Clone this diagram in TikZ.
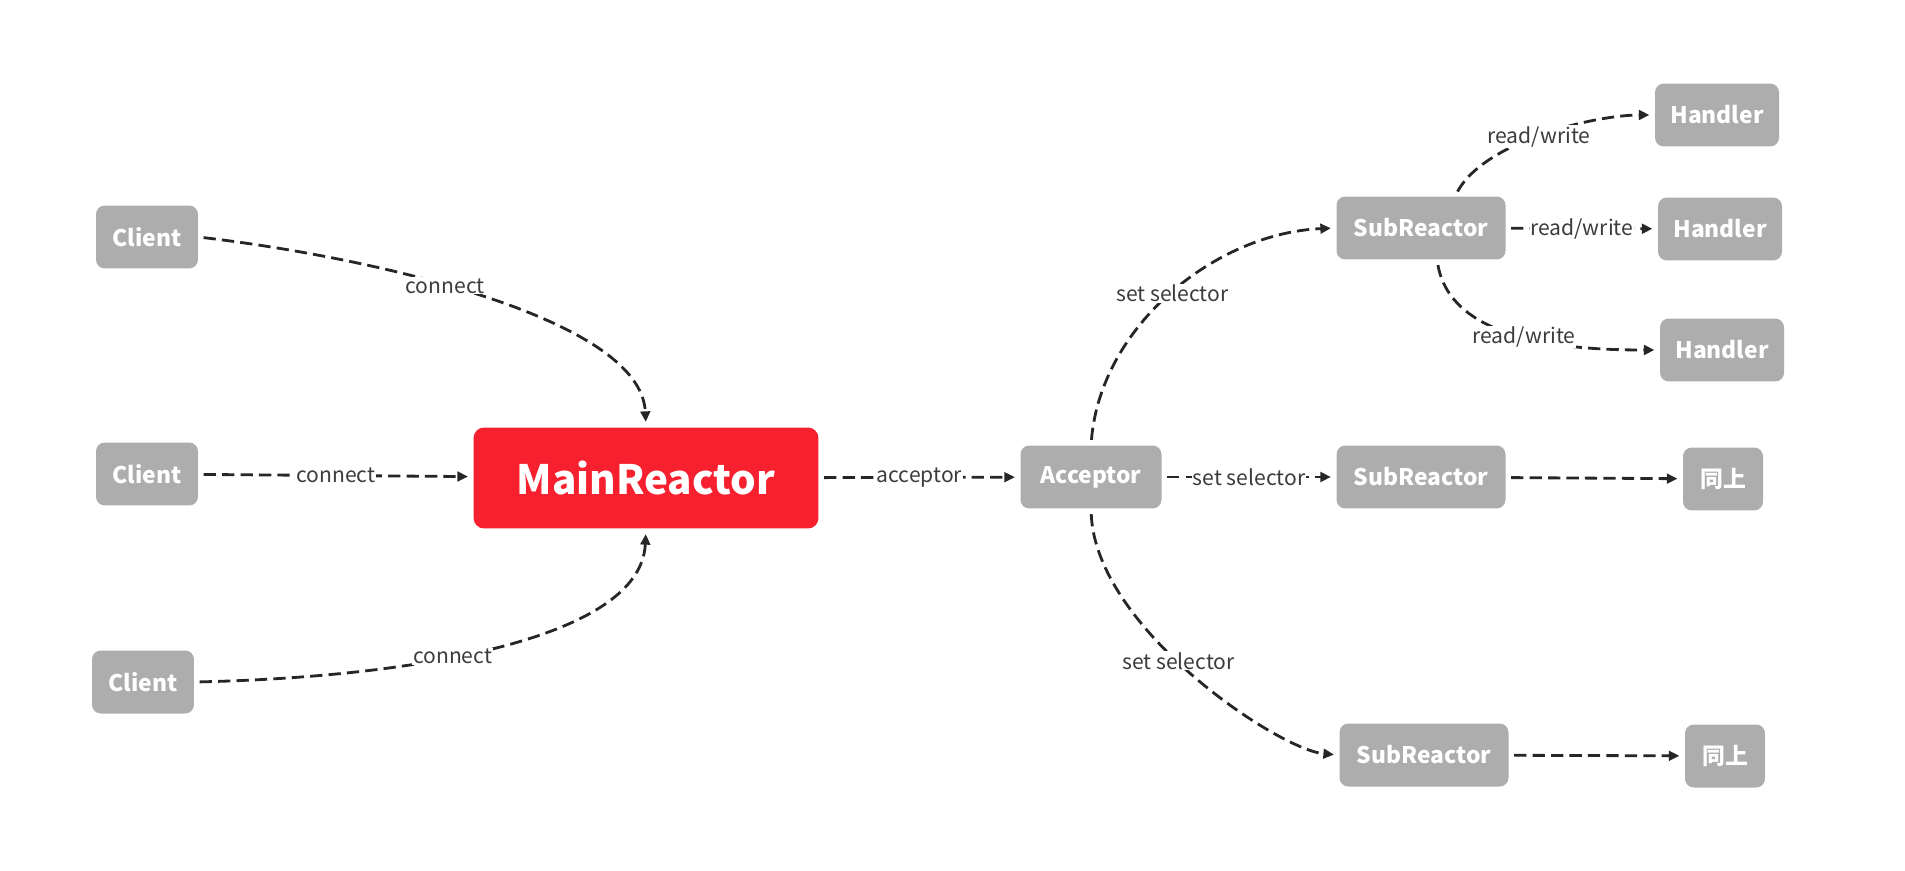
\documentclass[tikz,border=0pt]{standalone}
\usepackage{fontspec}
\setmainfont{Noto Sans CJK SC}
\usetikzlibrary{arrows.meta}

\definecolor{boxgray}{HTML}{ADADAD}
\definecolor{mainred}{HTML}{F6202E}
\definecolor{linedark}{HTML}{262626}

\begin{document}
\begin{tikzpicture}[
    x=0.02cm, y=-0.02cm,
    box/.style={rectangle, rounded corners=5pt, fill=boxgray, text=white, inner sep=0pt,
        minimum height=1.26cm, font=\fontsize{13}{15}\selectfont\bfseries},
    client/.style={box, minimum width=2.04cm},
    acceptor/.style={box, minimum width=2.82cm},
    sub/.style={box, minimum width=3.38cm},
    handler/.style={box, minimum width=2.48cm},
    same/.style={box, minimum width=1.6cm},
    reactor/.style={rectangle, rounded corners=6pt, fill=mainred, text=white, inner sep=0pt,
        minimum width=6.9cm, minimum height=2.02cm, font=\fontsize{23}{26}\selectfont\bfseries},
    conn/.style={-{Triangle[length=6pt, width=5.5pt]}, linedark, line width=1.6pt,
        dash pattern=on 7pt off 3.5pt, shorten <=3pt, shorten >=3pt},
    lbl/.style={fill=white, inner sep=0.5pt, text=linedark!90, font=\fontsize{12}{14}\selectfont}
]
\useasboundingbox (0,0) rectangle (1905,871);

% Clients
\node[client] (client1) at (147,237) {Client};
\node[client] (client2) at (147,474) {Client};
\node[client] (client3) at (143,682) {Client};

% Main reactor and acceptor
\node[reactor] (main) at (646,478) {MainReactor};
\node[acceptor] (acceptor) at (1091,477) {Acceptor};

% Sub reactors
\node[sub] (sub1) at (1421,228) {SubReactor};
\node[sub] (sub2) at (1421,477) {SubReactor};
\node[sub] (sub3) at (1424,755) {SubReactor};

% Handlers
\node[handler] (handler1) at (1717,115) {Handler};
\node[handler] (handler2) at (1720,229) {Handler};
\node[handler] (handler3) at (1722,350) {Handler};
\node[same] (same1) at (1723,479) {同上};
\node[same] (same2) at (1725,756) {同上};

% connect
\draw[conn] (client1.east) .. controls +(170,20) and +(-5,-110) .. node[lbl, pos=0.43] {connect} (main.north);
\draw[conn] (client2) -- node[lbl] {connect} (main);
\draw[conn] (client3.east) .. controls +(220,-5) and +(-5,110) .. node[lbl, pos=0.41] {connect} (main.south);

% acceptor
\draw[conn] (main) -- node[lbl] {acceptor} (acceptor);

% set selector
\draw[conn] (acceptor.north) .. controls +(10,-120) and +(-120,5) .. node[lbl, pos=0.5] {set selector} (sub1.west);
\draw[conn] (acceptor) -- node[lbl] {set selector} (sub2);
\draw[conn] (acceptor.south) .. controls +(5,120) and +(-60,-5) .. node[lbl, pos=0.45] {set selector} (sub3.west);

% read/write
\draw[conn] ([xshift=0.68cm]sub1.north) .. controls +(30,-55) and +(-60,0) .. node[lbl, pos=0.48] {read/write} (handler1.west);
\draw[conn] (sub1) -- node[lbl] {read/write} (handler2);
\draw[conn] ([xshift=0.32cm]sub1.south) .. controls +(15,85) and +(-80,0) .. node[lbl, pos=0.5] {read/write} (handler3.west);

% same as above
\draw[conn] (sub2) -- (same1);
\draw[conn] (sub3) -- (same2);

\end{tikzpicture}
\end{document}
